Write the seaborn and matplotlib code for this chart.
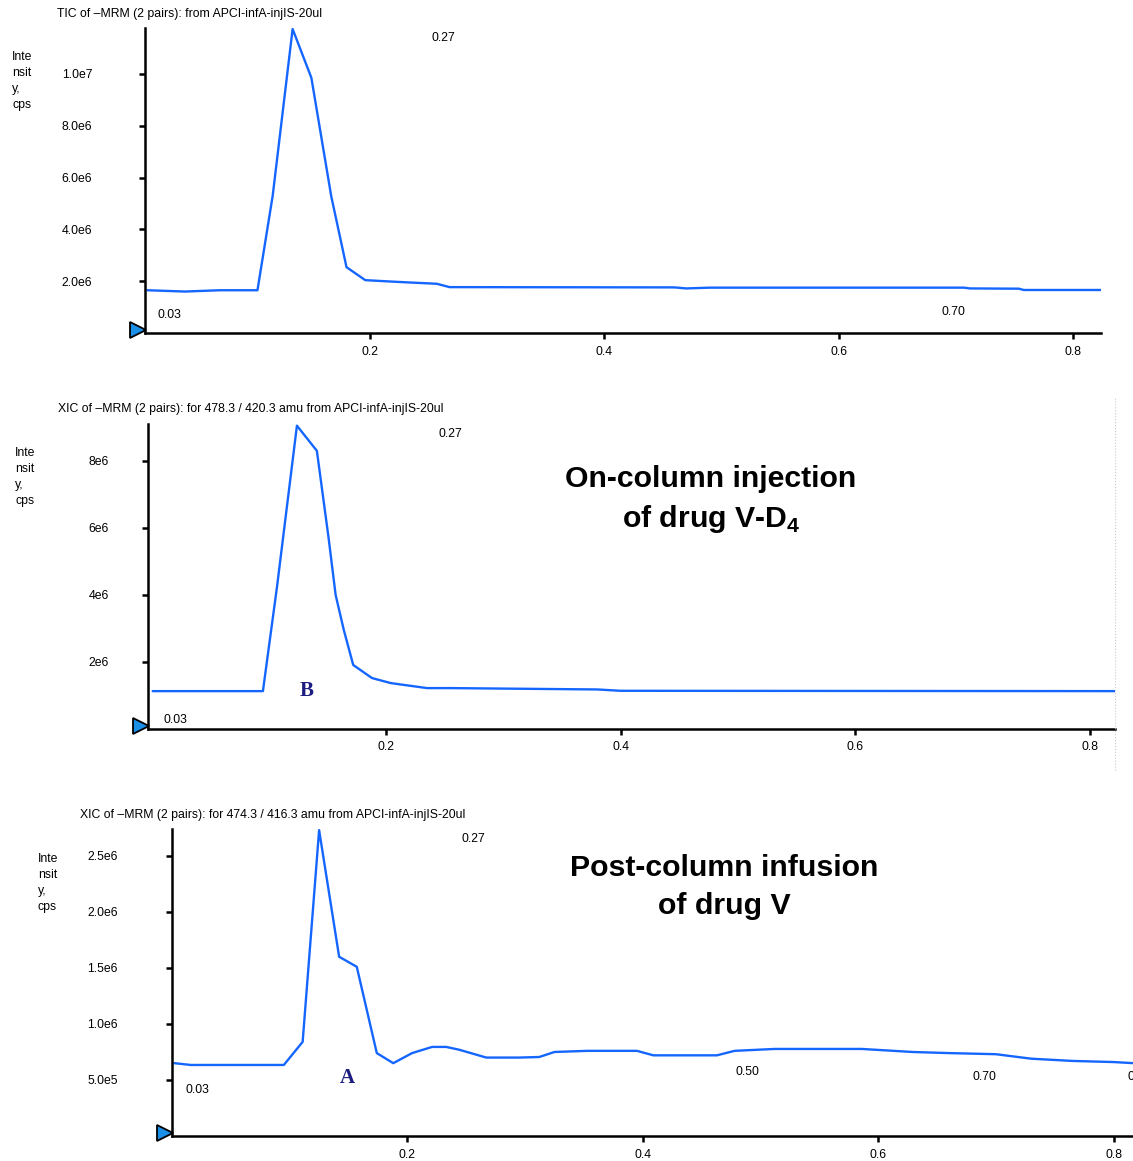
import matplotlib
matplotlib.use("Agg")
import matplotlib.pyplot as plt
import matplotlib.transforms as mtrans
from matplotlib.lines import Line2D
import pandas as pd
import seaborn as sns

# ---------------- data ----------------
# Panel 1: TIC
tic_time = [0.010, 0.042, 0.072, 0.104, 0.117, 0.134, 0.150, 0.167, 0.180, 0.196,
            0.212, 0.229, 0.257, 0.268, 0.460, 0.470, 0.490, 0.707, 0.712, 0.754,
            0.758, 0.824]
tic_int = [1.65e6, 1.60e6, 1.65e6, 1.65e6, 5.30e6, 11.73e6, 9.85e6, 5.27e6, 2.54e6, 2.04e6,
           2.00e6, 1.96e6, 1.90e6, 1.77e6, 1.76e6, 1.72e6, 1.75e6, 1.75e6, 1.72e6, 1.71e6,
           1.66e6, 1.66e6]

# Panel 2: XIC 478.3/420.3 (drug V-D4, on-column injection)
xicB_time = [0.001, 0.095, 0.107, 0.124, 0.141, 0.151, 0.157, 0.164, 0.172, 0.188,
             0.204, 0.235, 0.255, 0.380, 0.400, 0.822]
xicB_int = [1.13e6, 1.13e6, 4.24e6, 9.05e6, 8.30e6, 5.70e6, 4.00e6, 2.95e6, 1.91e6, 1.52e6,
            1.37e6, 1.22e6, 1.22e6, 1.18e6, 1.14e6, 1.13e6]

# Panel 3: XIC 474.3/416.3 (drug V, post-column infusion)
xicA_time = [0.002, 0.016, 0.095, 0.111, 0.125, 0.142, 0.157, 0.174, 0.188, 0.204,
             0.221, 0.233, 0.244, 0.267, 0.295, 0.312, 0.325, 0.353, 0.395, 0.409,
             0.463, 0.478, 0.512, 0.586, 0.629, 0.660, 0.700, 0.730, 0.765, 0.800,
             0.817]
xicA_int = [0.650e6, 0.634e6, 0.634e6, 0.840e6, 2.730e6, 1.600e6, 1.510e6, 0.740e6, 0.650e6, 0.740e6,
            0.795e6, 0.795e6, 0.770e6, 0.700e6, 0.700e6, 0.705e6, 0.750e6, 0.760e6, 0.760e6, 0.720e6,
            0.720e6, 0.760e6, 0.777e6, 0.777e6, 0.750e6, 0.740e6, 0.730e6, 0.690e6, 0.670e6, 0.660e6,
            0.650e6]

titles = [
    "TIC of \u2013MRM (2 pairs): from APCI-infA-injIS-20ul",
    "XIC of \u2013MRM (2 pairs): for 478.3 / 420.3 amu from APCI-infA-injIS-20ul",
    "XIC of \u2013MRM (2 pairs): for 474.3 / 416.3 amu from APCI-infA-injIS-20ul",
]
x_ticks = [0.2, 0.4, 0.6, 0.8]
x_ticklabels = ["0.2", "0.4", "0.6", "0.8"]
y_ticks = [
    [2e6, 4e6, 6e6, 8e6, 1e7],
    [2e6, 4e6, 6e6, 8e6],
    [5e5, 1e6, 1.5e6, 2e6, 2.5e6],
]
y_ticklabels = [
    ["2.0e6", "4.0e6", "6.0e6", "8.0e6", "1.0e7"],
    ["2e6", "4e6", "6e6", "8e6"],
    ["5.0e5", "1.0e6", "1.5e6", "2.0e6", "2.5e6"],
]
# peak / retention-time annotations: (label, time, intensity)
peak_labels = [
    [("0.27", 0.263, 11.38e6), ("0.03", 0.029, 0.69e6), ("0.70", 0.698, 0.81e6)],
    [("0.27", 0.255, 8.80e6), ("0.03", 0.020, 0.27e6)],
    [("0.27", 0.256, 2.65e6), ("0.03", 0.0215, 0.41e6), ("0.50", 0.489, 0.571e6),
     ("0.70", 0.690, 0.527e6)],
]
letter_labels = [None, ("B", 0.132, 1.13e6), ("A", 0.149, 0.52e6)]
big_texts = [None, "On-column injection\nof drug V-D$_{\\mathbf{4}}$",
             "Post-column infusion\nof drug V"]
ylabel_text = "Inte\nnsit\ny,\ncps"

# ---------------- style ----------------
sns.set_theme(style="ticks")
plt.rcParams['font.family'] = ['Liberation Sans', 'DejaVu Sans']
plt.rcParams['axes.linewidth'] = 1.6
plt.rcParams['text.color'] = 'black'
plt.rcParams['mathtext.fontset'] = 'custom'
plt.rcParams['mathtext.rm'] = 'Liberation Sans'
plt.rcParams['mathtext.bf'] = 'Liberation Sans:bold'

W, H = 1133, 1161
fig = plt.figure(figsize=(W / 100, H / 100), dpi=100)
fig.patch.set_facecolor("white")


def px_rect(l, t, r, b):
    return [l / W, 1 - b / H, (r - l) / W, (b - t) / H]


LINE = "#1566ff"
NAVY = "#1c1c80"
SMALL = 8.8

layout = [
    dict(rect=px_rect(145, 28, 1101, 333), xlim=(0.008, 0.824), ylim=(0, 11.77e6),
         ypad=34, title_xy=(57, 14), ylab_xy=(12, 51), big_xy=None),
    dict(rect=px_rect(148, 424, 1115, 729), xlim=(-0.003, 0.8216), ylim=(0, 9.1e6),
         ypad=24, title_xy=(58, 409), ylab_xy=(15, 447), big_xy=(711, 500)),
    dict(rect=px_rect(172, 829, 1133, 1136), xlim=(0.0, 0.8165), ylim=(0, 2.74e6),
         ypad=35, title_xy=(80, 815), ylab_xy=(38, 853), big_xy=(724, 887)),
]

datasets = [
    pd.DataFrame({"time": tic_time, "intensity": tic_int}),
    pd.DataFrame({"time": xicB_time, "intensity": xicB_int}),
    pd.DataFrame({"time": xicA_time, "intensity": xicA_int}),
]

for i, (lay, df) in enumerate(zip(layout, datasets)):
    ax = fig.add_axes(lay["rect"])
    sns.lineplot(data=df, x="time", y="intensity", ax=ax, color=LINE, lw=1.7,
                 estimator=None, sort=False)
    ax.set_xlim(*lay["xlim"])
    ax.set_ylim(*lay["ylim"])
    ax.set_xlabel("")
    ax.set_ylabel("")
    for s in ("top", "right"):
        ax.spines[s].set_visible(False)
    for s in ("left", "bottom"):
        ax.spines[s].set_color("black")
        ax.spines[s].set_linewidth(1.8)
    ax.set_xticks(x_ticks)
    ax.set_xticklabels(x_ticklabels)
    ax.set_yticks(y_ticks[i])
    ax.set_yticklabels(y_ticklabels[i])
    ax.tick_params(axis="x", direction="out", length=4, width=1.8, labelsize=SMALL,
                   pad=5, colors="black")
    ax.tick_params(axis="y", direction="out", length=4, width=1.8, labelsize=SMALL,
                   pad=lay["ypad"], colors="black")
    ax.set_facecolor("none")

    # blue start marker at the origin corner
    tr = ax.transAxes + mtrans.ScaledTranslation(-0.07, 0.03, fig.dpi_scale_trans)
    ax.plot([0], [0], marker=">", ms=11, mfc="#1a8fe8", mec="black", mew=1.3,
            transform=tr, clip_on=False, zorder=10)

    for lab, t, v in peak_labels[i]:
        ax.text(t, v, lab, fontsize=SMALL, ha="center", va="center", color="black")
    if letter_labels[i] is not None:
        lab, t, v = letter_labels[i]
        ax.text(t, v, lab, fontsize=15, ha="center", va="center", color=NAVY,
                fontweight="bold", family=["Liberation Serif", "DejaVu Serif"])

    tx, ty = lay["title_xy"]
    fig.text(tx / W, 1 - ty / H, titles[i], fontsize=SMALL, ha="left", va="center")
    lx, ly = lay["ylab_xy"]
    fig.text(lx / W, 1 - ly / H, ylabel_text, fontsize=SMALL, ha="left", va="top",
             linespacing=1.45)
    if big_texts[i] is not None:
        bx, by = lay["big_xy"]
        fig.text(bx / W, 1 - by / H, big_texts[i], fontsize=21.8, fontweight="bold",
                 ha="center", va="center", multialignment="center", linespacing=1.45,
                 color="black")

# partially visible trailing label at the right edge of the last panel
fig.text(1128 / W, 1 - 1077 / H, "0.80", fontsize=SMALL, ha="left", va="center")

# thin dotted frame edge beside the middle panel
fig.add_artist(Line2D([1115 / W, 1115 / W], [1 - 398 / H, 1 - 770 / H],
                      transform=fig.transFigure, color="#c8c8c8", lw=0.8, ls=":"))

fig.savefig("out.png", dpi=100, facecolor="white")
